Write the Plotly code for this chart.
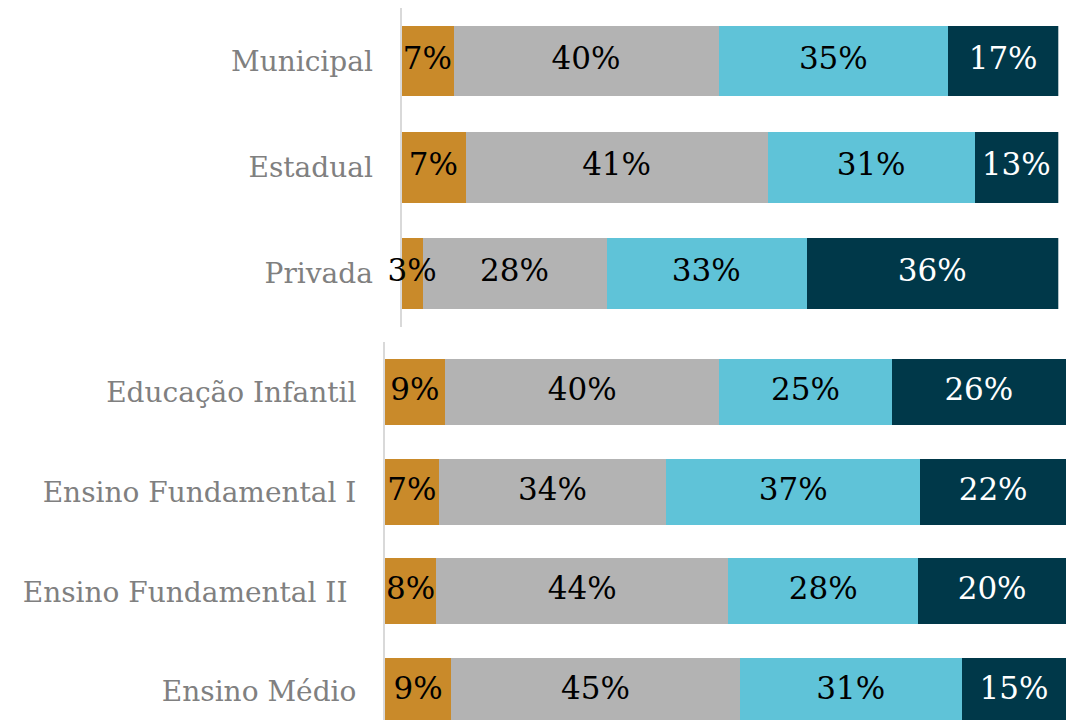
import plotly.graph_objects as go

# ---- data ----
top_categories = ["Municipal", "Estadual", "Privada"]
top_s1 = [7.9, 9.7, 3.2]
top_s2 = [40.4, 46.1, 28.0]
top_s3 = [34.9, 31.4, 30.4]
top_s4 = [16.8, 12.8, 38.4]
top_lab1 = [7, 7, 3]
top_lab2 = [40, 41, 28]
top_lab3 = [35, 31, 33]
top_lab4 = [17, 13, 36]

bot_categories = ["Educação Infantil", "Ensino Fundamental I",
                  "Ensino Fundamental II\u00a0", "Ensino Médio"]
bot_s1 = [8.8, 7.9, 7.5, 9.7]
bot_s2 = [40.3, 33.4, 42.9, 42.4]
bot_s3 = [25.3, 37.3, 27.9, 32.6]
bot_s4 = [25.6, 21.4, 21.7, 15.3]
bot_lab1 = [9, 7, 8, 9]
bot_lab2 = [40, 34, 44, 45]
bot_lab3 = [25, 37, 28, 31]
bot_lab4 = [26, 22, 20, 15]

colors = ["#C98A2A", "#B3B3B3", "#5FC3D8", "#003849"]
text_colors = ["#000000", "#000000", "#000000", "#FFFFFF"]

FONT = "DejaVu Serif"

fig = go.Figure()


def add_group(cats, series, labels, xa, ya, width):
    # bars
    for vals, c in zip(series, colors):
        fig.add_trace(go.Bar(
            y=cats, x=vals, orientation="h",
            marker=dict(color=c, line=dict(width=0)),
            width=width, xaxis=xa, yaxis=ya, showlegend=False,
            hoverinfo="skip", cliponaxis=False,
        ))
    # labels drawn on top of all bars, centred on each segment
    base = [0.0] * len(cats)
    for vals, labs, tc in zip(series, labels, text_colors):
        centers = [b + v / 2 for b, v in zip(base, vals)]
        base = [b + v for b, v in zip(base, vals)]
        fig.add_trace(go.Scatter(
            y=cats, x=centers, mode="text",
            text=[f"{v}%" for v in labs], textposition="middle center",
            textfont=dict(family=FONT, size=31, color=tc),
            xaxis=xa, yaxis=ya, showlegend=False, hoverinfo="skip",
            cliponaxis=False,
        ))


add_group(top_categories, [top_s1, top_s2, top_s3, top_s4],
          [top_lab1, top_lab2, top_lab3, top_lab4], "x", "y", 0.666)
add_group(bot_categories, [bot_s1, bot_s2, bot_s3, bot_s4],
          [bot_lab1, bot_lab2, bot_lab3, bot_lab4], "x2", "y2", 0.662)

W, H = 1066, 720
axis_common = dict(showgrid=False, zeroline=False, showticklabels=False, fixedrange=True)

fig.update_layout(
    width=W, height=H,
    margin=dict(l=0, r=0, t=0, b=0),
    paper_bgcolor="white", plot_bgcolor="rgba(0,0,0,0)",
    barmode="stack", bargap=0,
    xaxis=dict(domain=[401.5 / W, 1058.3 / W], range=[0, 100], anchor="y", **axis_common),
    yaxis=dict(domain=[1 - 326.7 / H, 1 - 8.3 / H], range=[2.5, -0.5], anchor="x",
               type="category", showgrid=False, zeroline=False,
               showline=True, linecolor="#D9D9D9", linewidth=2, layer="below traces",
               ticks="", ticklabelstandoff=21,
               tickfont=dict(family=FONT, size=28, color="#808080")),
    xaxis2=dict(domain=[385 / W, 1.0], range=[0, 100], anchor="y2", **axis_common),
    yaxis2=dict(domain=[0, 1 - 342.45 / H], range=[3.287, -0.5], anchor="x2",
                type="category", showgrid=False, zeroline=False,
                showline=True, linecolor="#D9D9D9", linewidth=2, layer="below traces",
                ticks="", ticklabelstandoff=21,
                tickfont=dict(family=FONT, size=28, color="#808080")),
)

fig.write_html("out.html", config={"displayModeBar": False},
               post_script="document.body.style.margin='0';")
